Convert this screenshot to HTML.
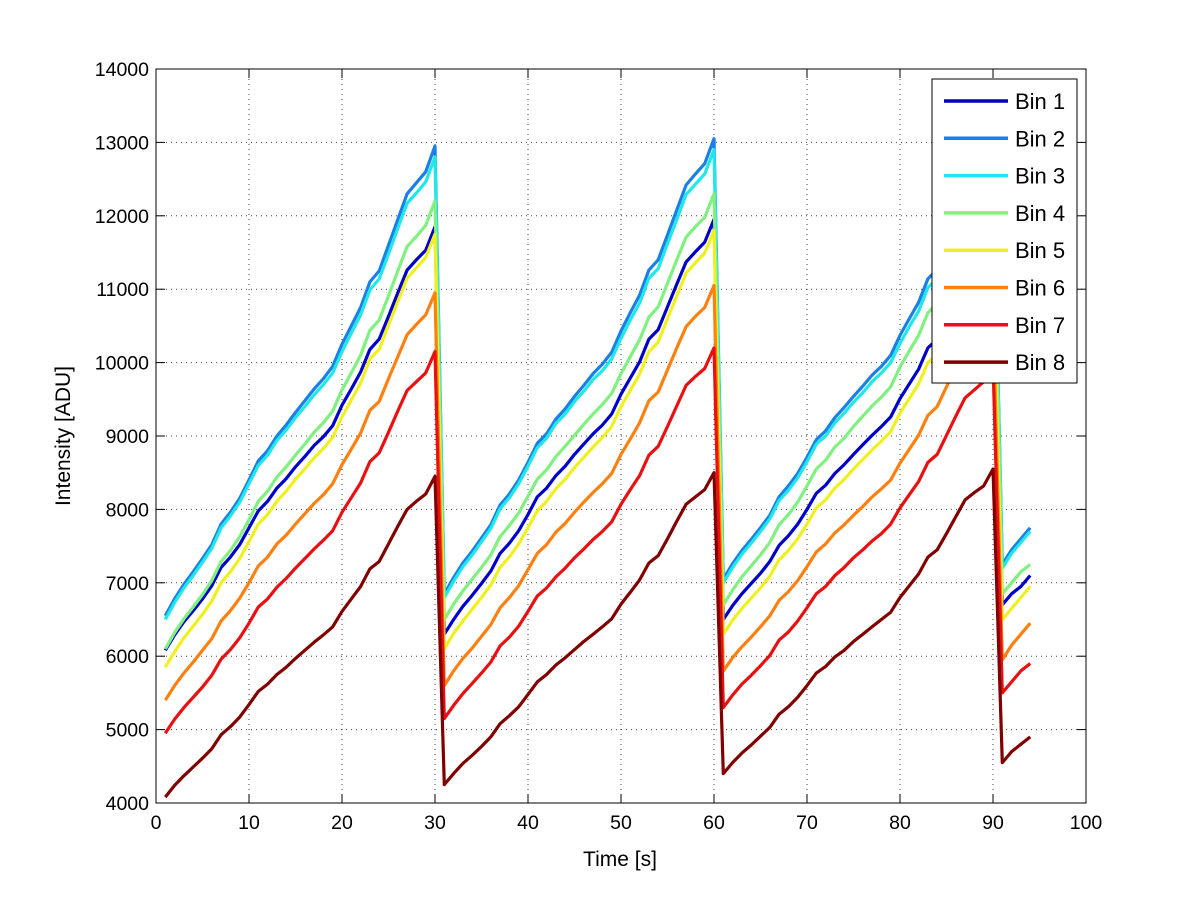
<!DOCTYPE html>
<html><head><meta charset="utf-8">
<style>
html,body{margin:0;padding:0;background:#fff;}
svg{display:block;font-family:"Liberation Sans",sans-serif;}
</style></head>
<body>
<svg id="chart" width="1200" height="901" viewBox="0 0 1200 901"></svg>
<script>
const seriesNames = ["Bin 1","Bin 2","Bin 3","Bin 4","Bin 5","Bin 6","Bin 7","Bin 8"];
const seriesColors = ["#0000c8","#1a80e8","#20e8e8","#80f080","#f0f020","#ff8010","#e81010","#800000"];
const xTicks = [0,10,20,30,40,50,60,70,80,90,100];
const yTicks = [4000,5000,6000,7000,8000,9000,10000,11000,12000,13000,14000];
const bin1 = [6080,6290,6470,6620,6780,6960,7210,7350,7520,7750,7980,8110,8290,8420,8580,8720,8870,8990,9140,9420,9640,9870,10180,10320,10630,10950,11260,11400,11530,11850,
6300,6500,6680,6830,6990,7160,7400,7540,7710,7930,8170,8290,8460,8590,8750,8890,9030,9150,9300,9570,9790,10010,10320,10450,10760,11070,11370,11510,11640,11950,
6500,6690,6850,6990,7130,7290,7510,7640,7800,8000,8220,8330,8490,8610,8750,8880,9010,9130,9260,9510,9710,9910,10200,10320,10600,10890,11170,11290,11410,11700,
6700,6850,6950,7100];
const bin2 = [6550,6780,6980,7150,7330,7520,7800,7960,8150,8400,8660,8800,9000,9150,9320,9480,9640,9780,9950,10250,10500,10750,11100,11250,11600,11950,12300,12450,12600,12950,
6850,7070,7270,7430,7610,7790,8060,8210,8400,8640,8900,9030,9230,9370,9540,9690,9850,9980,10140,10430,10680,10920,11260,11400,11740,12080,12420,12570,12710,13050,
7050,7260,7440,7590,7750,7920,8170,8320,8490,8710,8950,9070,9250,9390,9540,9680,9830,9950,10100,10370,10600,10820,11140,11270,11590,11900,12210,12350,12480,12800,
7250,7450,7600,7750];
const bin3 = [6500,6730,6930,7100,7280,7470,7750,7910,8100,8350,8600,8740,8940,9080,9250,9400,9560,9700,9860,10150,10400,10650,10990,11140,11480,11830,12170,12310,12460,12800,
6800,7020,7220,7380,7560,7740,8010,8160,8350,8590,8840,8970,9170,9300,9470,9610,9770,9890,10050,10330,10580,10810,11150,11280,11620,11950,12290,12430,12570,12900,
7000,7210,7390,7540,7700,7870,8120,8260,8430,8650,8890,9000,9180,9310,9460,9590,9740,9860,10000,10260,10490,10700,11020,11150,11460,11770,12080,12210,12340,12650,
7200,7400,7550,7700];
const bin4 = [6100,6320,6510,6670,6840,7030,7290,7440,7630,7860,8110,8250,8440,8580,8740,8890,9050,9180,9340,9630,9860,10100,10440,10580,10910,11250,11580,11720,11870,12200,
6500,6710,6890,7050,7210,7380,7630,7780,7950,8180,8410,8540,8720,8860,9010,9160,9300,9430,9580,9850,10080,10310,10620,10760,11080,11400,11710,11850,11980,12300,
6700,6900,7080,7230,7380,7550,7790,7930,8100,8320,8550,8670,8850,8970,9130,9270,9410,9530,9670,9940,10160,10370,10680,10810,11120,11430,11730,11860,11990,12300,
6850,7000,7150,7250];
const bin5 = [5850,6060,6250,6410,6570,6750,7000,7150,7330,7560,7800,7930,8110,8250,8410,8550,8700,8830,8980,9260,9490,9720,10050,10180,10510,10830,11150,11290,11430,11750,
6100,6310,6480,6640,6800,6970,7210,7350,7530,7750,7980,8110,8280,8410,8570,8710,8850,8980,9130,9400,9620,9840,10150,10280,10600,10910,11220,11360,11490,11800,
6300,6490,6650,6790,6930,7090,7310,7440,7600,7800,8020,8130,8290,8410,8550,8680,8810,8930,9060,9310,9510,9710,10000,10120,10400,10690,10970,11090,11210,11500,
6500,6650,6800,6950];
const bin6 = [5400,5600,5770,5920,6080,6240,6480,6620,6790,7000,7230,7350,7530,7650,7800,7940,8080,8200,8350,8610,8820,9040,9350,9470,9780,10080,10380,10520,10650,10950,
5600,5800,5970,6110,6270,6430,6660,6800,6960,7180,7400,7520,7690,7810,7960,8100,8230,8350,8490,8750,8960,9180,9480,9600,9900,10200,10490,10630,10750,11050,
5800,5980,6130,6260,6400,6550,6760,6880,7030,7220,7420,7530,7680,7790,7920,8040,8170,8280,8400,8630,8820,9010,9280,9400,9670,9940,10200,10320,10430,10700,
5950,6150,6300,6450];
const bin7 = [4950,5140,5300,5440,5580,5740,5960,6090,6250,6450,6670,6780,6940,7060,7200,7330,7460,7580,7710,7960,8160,8360,8650,8770,9050,9340,9620,9740,9860,10150,
5150,5330,5490,5630,5770,5920,6140,6260,6410,6610,6820,6930,7080,7200,7340,7460,7590,7700,7830,8070,8270,8460,8740,8860,9130,9410,9690,9810,9920,10200,
5300,5470,5620,5740,5870,6010,6220,6330,6480,6660,6850,6950,7100,7210,7340,7450,7570,7670,7800,8020,8200,8380,8640,8750,9010,9270,9520,9630,9740,10000,
5500,5650,5800,5900];
const bin8 = [4080,4240,4370,4490,4610,4740,4930,5040,5170,5340,5520,5620,5750,5850,5970,6080,6190,6290,6400,6610,6780,6950,7190,7290,7530,7770,8000,8110,8210,8450,
4250,4400,4540,4650,4770,4900,5080,5190,5310,5480,5650,5750,5880,5980,6090,6200,6300,6400,6510,6710,6870,7040,7270,7370,7600,7840,8070,8170,8270,8500,
4400,4550,4680,4790,4910,5030,5210,5310,5440,5600,5770,5860,5990,6080,6200,6300,6400,6500,6600,6800,6960,7120,7350,7450,7670,7900,8130,8230,8320,8550,
4550,4700,4800,4900];
const allSeries = [bin1,bin2,bin3,bin4,bin5,bin6,bin7,bin8];

const NS = "http://www.w3.org/2000/svg";
const svg = document.getElementById("chart");
const L=156,R=1086,T=69,B=803;
const xMin=0,xMax=100,yMin=4000,yMax=14000;
function sx(v){return L+(v-xMin)/(xMax-xMin)*(R-L);}
function sy(v){return B-(v-yMin)/(yMax-yMin)*(B-T);}
function mk(tag,attrs,parent){const e=document.createElementNS(NS,tag);for(const k in attrs)e.setAttribute(k,attrs[k]);(parent||svg).appendChild(e);return e;}

const grid = mk("g",{});


xTicks.forEach(t=>{ if(t>xMin&&t<xMax) mk("line",{x1:sx(t),x2:sx(t),y1:T,y2:B,stroke:"#444","stroke-width":1,"stroke-dasharray":"1,4"},grid);});
yTicks.forEach(t=>{ if(t>yMin&&t<yMax) mk("line",{x1:L,x2:R,y1:sy(t),y2:sy(t),stroke:"#444","stroke-width":1,"stroke-dasharray":"1,4"},grid);});

const lines = mk("g",{});


allSeries.forEach((arr,i)=>{
  const pts = arr.map((v,j)=>sx(j+1).toFixed(1)+","+sy(v).toFixed(1)).join(" ");
  const pl = mk("polyline",{points:pts,fill:"none",stroke:seriesColors[i],"stroke-width":3.2,"stroke-linejoin":"round"},lines);
  
  
});

const axes = mk("g",{});


mk("rect",{x:L,y:T,width:R-L,height:B-T,fill:"none",stroke:"#000","stroke-width":1},axes);
xTicks.forEach(t=>{
  mk("line",{x1:sx(t),x2:sx(t),y1:B,y2:B-9,stroke:"#000"},axes);
  mk("line",{x1:sx(t),x2:sx(t),y1:T,y2:T+9,stroke:"#000"},axes);
  const tx = mk("text",{x:sx(t),y:B+26,"text-anchor":"middle","font-size":19.5,fill:"#000"},axes);
  tx.textContent=t;
  
  
});
yTicks.forEach(t=>{
  mk("line",{x1:L,x2:L+9,y1:sy(t),y2:sy(t),stroke:"#000"},axes);
  mk("line",{x1:R,x2:R-9,y1:sy(t),y2:sy(t),stroke:"#000"},axes);
  const tx = mk("text",{x:L-7,y:sy(t)+7,"text-anchor":"end","font-size":19.5,fill:"#000"},axes);
  tx.textContent=t;
  
  
});
const xt = mk("text",{x:620,y:866,"text-anchor":"middle","font-size":21,fill:"#000"});
xt.textContent="Time [s]";


const yt = mk("text",{x:0,y:0,"text-anchor":"middle","font-size":21,fill:"#000",transform:"translate(70,436) rotate(-90)"});
yt.textContent="Intensity [ADU]";



const leg = mk("g",{});


mk("rect",{x:932,y:79,width:145,height:304,fill:"#fff",stroke:"#000","stroke-width":1},leg);
seriesNames.forEach((n,i)=>{
  const y=101+i*37.3;
  const g = mk("g",{},leg);
  
  
  mk("line",{x1:944,x2:1008,y1:y,y2:y,stroke:seriesColors[i],"stroke-width":3.5},g);
  const tx = mk("text",{x:1015,y:y+8,"font-size":22,fill:"#000"},g);
  tx.textContent=n;
});
</script>
</body></html>
